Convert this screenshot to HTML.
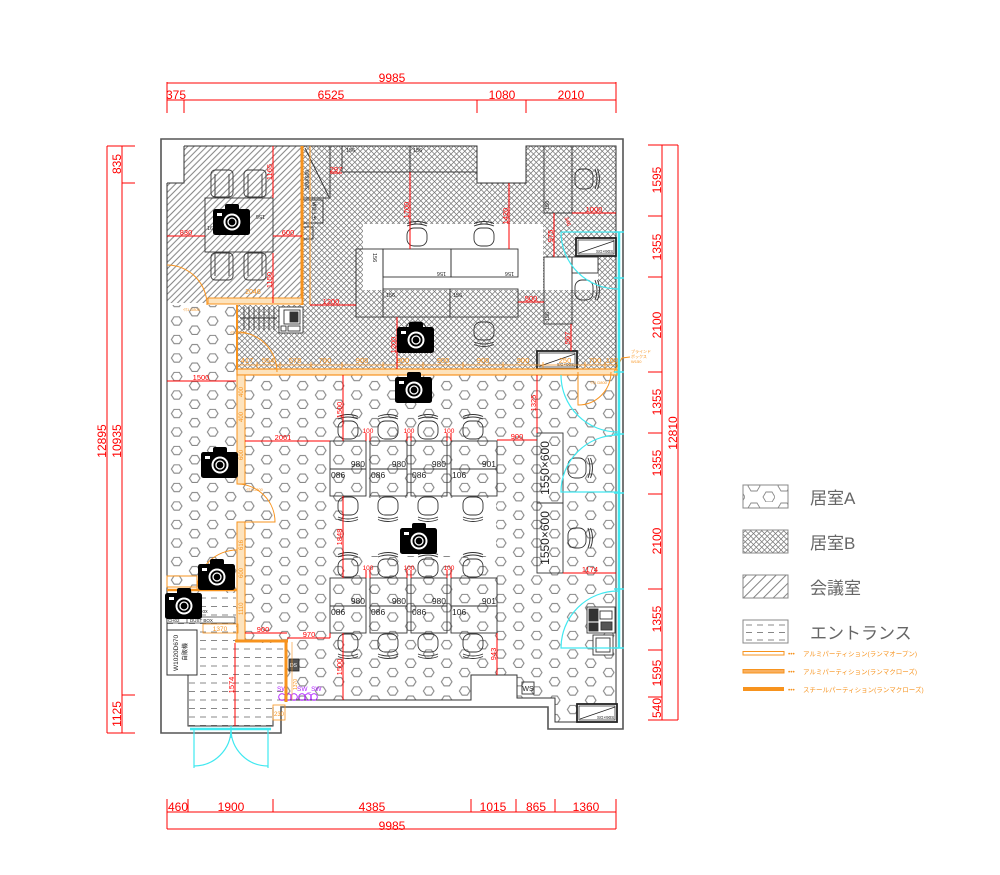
<!DOCTYPE html>
<html><head><meta charset="utf-8">
<style>
html,body{margin:0;padding:0;background:#fff;}
svg{display:block;}
text{font-family:"Liberation Sans Narrow","Liberation Sans","Noto Sans CJK JP",sans-serif;}
.r{fill:#ff0000;}
.rl{stroke:#ff0000;stroke-width:1;fill:none;}
.o{fill:#f7931e;}
.ol{stroke:#f7931e;fill:none;}
.k{stroke:#333;stroke-width:0.9;fill:none;}
.cy{stroke:#40e8f0;fill:none;}
</style></head><body>
<svg width="1000" height="875" viewBox="0 0 1000 875" xmlns="http://www.w3.org/2000/svg">
<defs>
 <pattern id="hex" patternUnits="userSpaceOnUse" x="167.7" y="1.9" width="36" height="18.5">
  <path d="M3.7,4.6 L6.4,0.4 L11.6,0.4 L14.3,4.6 L11.6,8.8 L6.4,8.8Z M21.7,13.85 L24.4,9.65 L29.6,9.65 L32.3,13.85 L29.6,18.05 L24.4,18.05Z" fill="none" stroke="#7a7a7a" stroke-width="1"/>
 </pattern>
 <pattern id="hexL" patternUnits="userSpaceOnUse" x="745" y="480" width="30" height="22">
  <path d="M3,6 L6,1 L12,1 L15,6 L12,11 L6,11Z M18,17 L21,12 L27,12 L30,17 L27,22 L21,22Z" fill="none" stroke="#8a8a8a" stroke-width="0.9"/>
 </pattern>
 <pattern id="xh" patternUnits="userSpaceOnUse" width="5.5" height="5.5">
  <path d="M0,0 L5.5,5.5 M5.5,0 L0,5.5" stroke="#777" stroke-width="0.75"/>
 </pattern>
 <pattern id="hatch" patternUnits="userSpaceOnUse" width="4.5" height="4.5" patternTransform="rotate(45)">
  <line x1="2.25" y1="0" x2="2.25" y2="4.5" stroke="#6a6a6a" stroke-width="0.85"/>
 </pattern>
 <pattern id="hatchL" patternUnits="userSpaceOnUse" width="7" height="7" patternTransform="rotate(45)">
  <line x1="3.5" y1="0" x2="3.5" y2="7" stroke="#777" stroke-width="0.9"/>
 </pattern>
 <pattern id="dash" patternUnits="userSpaceOnUse" width="11" height="8.5" x="188" y="645">
  <line x1="1" y1="4" x2="7" y2="4" stroke="#888" stroke-width="1"/>
 </pattern>
 <pattern id="dashL" patternUnits="userSpaceOnUse" width="11" height="7.5" x="745" y="621">
  <line x1="1" y1="4" x2="7" y2="4" stroke="#888" stroke-width="1"/>
 </pattern>
 <g id="ch">
  <rect x="-10" y="-10" width="20" height="18" rx="7" fill="none" stroke="#333" stroke-width="0.9"/>
  <path d="M-10,10 Q0,14 10,10 M-10,12.5 Q0,16.5 10,12.5" fill="none" stroke="#333" stroke-width="0.9"/>
 </g>
 <g id="mch">
  <rect x="-11" y="-13" width="22" height="27" rx="4" fill="none" stroke="#333" stroke-width="0.9"/>
  <path d="M-7,-9 V14 M7,-9 V14" fill="none" stroke="#333" stroke-width="0.9"/>
 </g>
 <g id="cam">
  <rect x="12" y="0" width="14" height="8" rx="2" fill="#000"/>
  <rect x="0" y="5" width="37" height="26" rx="2.5" fill="#000"/>
  <rect x="4" y="9" width="5" height="3" fill="#fff"/>
  <circle cx="19" cy="18" r="8.5" fill="#fff"/>
  <circle cx="19" cy="18" r="6.5" fill="#000"/>
  <circle cx="19" cy="18" r="4" fill="none" stroke="#fff" stroke-width="1.3"/>
 </g>
 <g id="sgbox">
  <rect x="0" y="0" width="40" height="18" fill="#fff" stroke="#222" stroke-width="1.8"/>
  <rect x="2" y="2" width="36" height="14" fill="none" stroke="#222" stroke-width="0.7"/>
  <line x1="3" y1="15" x2="38" y2="3" stroke="#222" stroke-width="0.7"/>
  <text x="20" y="15" font-size="4.5" text-anchor="start" fill="#222">SG×90S</text>
 </g>
</defs>

<!-- ============ FILLS ============ -->
<polygon points="184,146 302,146 302,303 167,303 167,183 184,183" fill="url(#hatch)"/>
<polygon points="302,146 477,146 477,183 526,183 526,146 616,146 616,370 237,370 237,305 302,305" fill="url(#xh)"/>
<rect x="363" y="224" width="180" height="66" fill="#fff"/>
<rect x="544" y="257" width="54" height="33" fill="#fff"/>
<polygon points="167,305 237,305 237,375 616,375 616,722 555,722 555,698 517,698 517,675 471,675 471,700 287,700 287,643 236,643 236,593 167,593" fill="url(#hex)"/>
<rect x="344" y="498" width="152" height="58" fill="#fff"/>
<polygon points="167,593 236,593 236,643 286,643 286,702 273,702 273,726 188,726 188,675 167,675" fill="#fff"/>
<polygon points="167,593 236,593 236,643 286,643 286,702 273,702 273,726 188,726 188,675 167,675" fill="url(#dash)"/>

<!-- ============ WALLS ============ -->
<polygon points="161,139 623,139 623,729 548,729 548,707 281,707 281,733 161,733" fill="none" stroke="#555" stroke-width="1.6"/>
<polyline points="184,146 477,146 477,183 526,183 526,146 616,146 616,722 555,722 555,698 517,698 517,675 471,675 471,700 283,700" fill="none" stroke="#333" stroke-width="1"/>
<polyline points="167,183 184,183 184,146" fill="none" stroke="#333" stroke-width="1"/>
<line x1="167" y1="183" x2="167" y2="675" stroke="#333" stroke-width="1"/>
<polyline points="167,675 188,675 188,726 273,726 273,707" fill="none" stroke="#333" stroke-width="1"/>
<rect x="273" y="705" width="12" height="15" fill="none" stroke="#f7931e" stroke-width="0.8"/>
<text x="279" y="716" font-size="6" class="o" text-anchor="middle">230</text>

<!-- ============ UPPER AREA FURNITURE ============ -->
<rect x="342" y="146" width="68" height="26" class="k" fill="none"/>
<rect x="410" y="146" width="67" height="26" class="k"/>
<text x="346" y="152" font-size="5.5" fill="#222">156</text>
<text x="413" y="152" font-size="5.5" fill="#222">156</text>
<rect x="303" y="146" width="27" height="52" class="k" stroke-width="1"/>
<line x1="305" y1="148" x2="329" y2="197" class="k"/>
<text transform="translate(309,190) rotate(-90)" font-size="5" fill="#222">300X600</text>
<rect x="303" y="200" width="20" height="23" class="k"/>
<text transform="translate(316,220) rotate(-90)" font-size="4.5" fill="#222">床下収納</text>
<rect x="303" y="227" width="10" height="12" class="k"/>

<rect x="356" y="249" width="27" height="68" class="k"/>
<rect x="383" y="249" width="68" height="28" class="k"/>
<rect x="451" y="249" width="67" height="28" class="k"/>
<rect x="383" y="289" width="67" height="28" class="k"/>
<rect x="450" y="289" width="68" height="28" class="k"/>
<text transform="translate(373,253) rotate(90)" font-size="5.5" fill="#222">156</text>
<text transform="translate(446,272) rotate(180)" font-size="5.5" fill="#222">156</text>
<text transform="translate(514,272) rotate(180)" font-size="5.5" fill="#222">156</text>
<text x="386" y="297" font-size="5.5" fill="#222">156</text>
<text x="453" y="297" font-size="5.5" fill="#222">156</text>

<use href="#ch" transform="translate(417,236) rotate(180)"/>
<use href="#ch" transform="translate(484,236) rotate(180)"/>
<use href="#ch" transform="translate(416,332)"/>
<use href="#ch" transform="translate(484,332)"/>

<rect x="544" y="146" width="28" height="67" class="k"/>
<text transform="translate(549,210) rotate(-90)" font-size="5.5" fill="#222">156</text>
<use href="#ch" transform="translate(585,179) rotate(-90)"/>
<rect x="544" y="257" width="28" height="67" class="k"/>
<rect x="572" y="257" width="26" height="16" class="k"/>
<text transform="translate(549,321) rotate(-90)" font-size="5.5" fill="#222">156</text>
<use href="#ch" transform="translate(585,290) rotate(-90)"/>
<use href="#sgbox" transform="translate(576,238)"/>
<use href="#sgbox" transform="translate(537,351)"/>
<use href="#sgbox" transform="translate(577,704)"/>

<!-- meeting room -->
<rect x="205" y="198" width="68" height="54" class="k" fill="none"/>
<text transform="translate(265,215) rotate(180)" font-size="5.5" fill="#222">156</text>
<text x="207" y="230" font-size="5.5" fill="#222">16</text>
<use href="#mch" transform="translate(222,183)"/>
<use href="#mch" transform="translate(255,183)"/>
<use href="#mch" transform="translate(222,267) rotate(180)"/>
<use href="#mch" transform="translate(255,267) rotate(180)"/>

<g class="k" stroke-width="0.8">
 <line x1="240" y1="318" x2="277" y2="318"/>
 <line x1="244" y1="307" x2="244" y2="330"/><line x1="249" y1="307" x2="249" y2="330"/>
 <line x1="254" y1="307" x2="254" y2="330"/><line x1="259" y1="307" x2="259" y2="330"/>
 <line x1="264" y1="307" x2="264" y2="330"/><line x1="269" y1="307" x2="269" y2="330"/>
 <line x1="274" y1="307" x2="274" y2="330"/>
 <rect x="279" y="307" width="24" height="26" fill="#fff"/>
 <rect x="284" y="310" width="16" height="14"/>
 <rect x="290" y="312" width="8" height="10" fill="#333"/>
 <rect x="281" y="326" width="5" height="5"/>
 <rect x="288" y="326" width="12" height="5"/>
</g>

<!-- ============ ISLAND DESKS ============ -->
<g class="k">
 <rect x="330" y="441" width="36" height="55"/><line x1="330" y1="469" x2="366" y2="469"/>
 <rect x="370" y="441" width="37" height="55"/><line x1="370" y1="469" x2="407" y2="469"/>
 <rect x="411" y="441" width="36" height="55"/><line x1="411" y1="469" x2="447" y2="469"/>
 <rect x="451" y="441" width="46" height="55"/><line x1="451" y1="469" x2="497" y2="469"/>
 <rect x="330" y="578" width="36" height="55"/><line x1="330" y1="606" x2="366" y2="606"/>
 <rect x="370" y="578" width="37" height="55"/><line x1="370" y1="606" x2="407" y2="606"/>
 <rect x="411" y="578" width="36" height="55"/><line x1="411" y1="606" x2="447" y2="606"/>
 <rect x="451" y="578" width="46" height="55"/><line x1="451" y1="606" x2="497" y2="606"/>
</g>
<g font-size="8.5" fill="#222">
 <text x="365" y="467" text-anchor="end">980</text><text x="331" y="478">086</text>
 <text x="406" y="467" text-anchor="end">980</text><text x="371" y="478">086</text>
 <text x="446" y="467" text-anchor="end">980</text><text x="412" y="478">086</text>
 <text x="496" y="467" text-anchor="end">901</text><text x="452" y="478">106</text>
 <text x="365" y="604" text-anchor="end">980</text><text x="331" y="615">086</text>
 <text x="406" y="604" text-anchor="end">980</text><text x="371" y="615">086</text>
 <text x="446" y="604" text-anchor="end">980</text><text x="412" y="615">086</text>
 <text x="496" y="604" text-anchor="end">901</text><text x="452" y="615">106</text>
</g>
<use href="#ch" transform="translate(348,429) rotate(180)"/>
<use href="#ch" transform="translate(388,429) rotate(180)"/>
<use href="#ch" transform="translate(428,429) rotate(180)"/>
<use href="#ch" transform="translate(473,429) rotate(180)"/>
<use href="#ch" transform="translate(348,507)"/>
<use href="#ch" transform="translate(388,507)"/>
<use href="#ch" transform="translate(428,507)"/>
<use href="#ch" transform="translate(473,507)"/>
<use href="#ch" transform="translate(348,567) rotate(180)"/>
<use href="#ch" transform="translate(388,567) rotate(180)"/>
<use href="#ch" transform="translate(428,567) rotate(180)"/>
<use href="#ch" transform="translate(473,567) rotate(180)"/>
<use href="#ch" transform="translate(348,644)"/>
<use href="#ch" transform="translate(388,644)"/>
<use href="#ch" transform="translate(428,644)"/>
<use href="#ch" transform="translate(473,644)"/>

<rect x="537" y="433" width="26" height="70" class="k" stroke-width="1"/>
<rect x="537" y="503" width="26" height="70" class="k" stroke-width="1"/>
<text transform="translate(549,468) rotate(-90)" font-size="12" text-anchor="middle" fill="#222">1550×600</text>
<text transform="translate(549,538) rotate(-90)" font-size="12" text-anchor="middle" fill="#222">1550×600</text>
<use href="#ch" transform="translate(578,468) rotate(-90)"/>
<use href="#ch" transform="translate(578,538) rotate(-90)"/>

<g class="k">
 <rect x="587" y="607" width="28" height="26" fill="#fff"/>
 <rect x="589" y="609" width="9" height="12" fill="#333"/>
 <rect x="600" y="611" width="12" height="8"/>
 <rect x="601" y="622" width="11" height="8" fill="#555"/>
 <rect x="589" y="623" width="9" height="8" fill="#333"/>
 <rect x="593" y="635" width="20" height="20" fill="#fff"/>
 <rect x="596" y="638" width="14" height="14"/>
 <rect x="522" y="682" width="12" height="12"/>
</g>
<text x="528" y="691" font-size="7" text-anchor="middle" fill="#222">WS</text>

<rect x="167" y="630" width="30" height="45" fill="#fff" stroke="#333" stroke-width="1"/>
<text transform="translate(178,671) rotate(-90)" font-size="6.5" fill="#222">W1020D670</text>
<text transform="translate(187,661) rotate(-90)" font-size="6" fill="#222">自販機</text>
<rect x="167" y="617" width="68" height="6" fill="#fff" stroke="#333" stroke-width="0.7"/>
<line x1="187" y1="617" x2="187" y2="623" stroke="#333" stroke-width="0.7"/>
<text x="168" y="622" font-size="4.5" fill="#222">CH02</text>
<text x="190" y="622" font-size="4.5" fill="#222">DUST BOX</text>
<text x="199" y="613" font-size="5" fill="#222">Box</text>
<rect x="289" y="659" width="10" height="12" fill="#555" stroke="#222" stroke-width="0.8"/>
<text x="290" y="667" font-size="5" fill="#fff">DS</text>

<g stroke="#b020ff" fill="none" stroke-width="0.9">
 <circle cx="282" cy="697" r="3.3"/><circle cx="288" cy="697" r="3.3"/><circle cx="294" cy="697" r="3.3"/>
 <circle cx="302" cy="697" r="3.3"/><circle cx="308" cy="697" r="3.3"/><circle cx="314" cy="697" r="3.3"/>
</g>
<text x="277" y="691" font-size="6.5" fill="#b020ff">SW</text>
<text x="297" y="691" font-size="6.5" fill="#b020ff">SW_SW</text>

<!-- ============ ORANGE PARTITIONS ============ -->
<line x1="302" y1="146" x2="302" y2="305" stroke="#f7931e" stroke-width="3"/>
<line x1="310" y1="146" x2="310" y2="305" stroke="#f7931e" stroke-width="1"/>
<rect x="208" y="298" width="94" height="6" fill="#fde3bd" stroke="#f7931e" stroke-width="1"/>
<line x1="237" y1="305" x2="237" y2="370" stroke="#f7931e" stroke-width="2"/>
<rect x="237" y="369" width="380" height="6" fill="#fde3bd" stroke="#f7931e" stroke-width="1.2"/>
<rect x="237" y="375" width="8" height="109" fill="#fde3bd" stroke="#f7931e" stroke-width="1"/>
<rect x="237" y="522" width="8" height="119" fill="#fde3bd" stroke="#f7931e" stroke-width="1"/>
<line x1="235" y1="641" x2="288" y2="641" stroke="#f7931e" stroke-width="3"/>
<line x1="286" y1="641" x2="286" y2="702" stroke="#f7931e" stroke-width="3"/>
<line x1="167" y1="590" x2="237" y2="590" stroke="#f7931e" stroke-width="2.5"/>
<rect x="167" y="576" width="30" height="11" fill="none" stroke="#f7931e" stroke-width="1"/>
<rect x="203" y="624" width="35" height="9" fill="none" stroke="#f7931e" stroke-width="0.8"/>
<text x="220" y="631" font-size="6.5" class="o" text-anchor="middle">1370</text>
<text transform="translate(297,690) rotate(-90)" font-size="5" class="o">1370</text>
<line x1="292" y1="642" x2="292" y2="700" stroke="#f7931e" stroke-width="0.6"/>
<g font-size="6" class="o">
 <text transform="translate(243,397) rotate(-90)">400</text>
 <text transform="translate(243,422) rotate(-90)">400</text>
 <text transform="translate(243,460) rotate(-90)">600</text>
 <text transform="translate(243,550) rotate(-90)">616</text>
 <text transform="translate(243,578) rotate(-90)">600</text>
 <text transform="translate(243,615) rotate(-90)">1110</text>
</g>
<line x1="237" y1="365" x2="617" y2="365" stroke="#f7931e" stroke-width="0.8"/>
<g stroke="#f7931e" stroke-width="0.8">
 <line x1="237" y1="362" x2="237" y2="368"/><line x1="257" y1="362" x2="257" y2="368"/>
 <line x1="280" y1="362" x2="280" y2="368"/><line x1="311" y1="362" x2="311" y2="368"/>
 <line x1="342" y1="362" x2="342" y2="368"/><line x1="383" y1="362" x2="383" y2="368"/>
 <line x1="423" y1="362" x2="423" y2="368"/><line x1="463" y1="362" x2="463" y2="368"/>
 <line x1="503" y1="362" x2="503" y2="368"/><line x1="543" y1="362" x2="543" y2="368"/>
 <line x1="585" y1="362" x2="585" y2="368"/><line x1="605" y1="362" x2="605" y2="368"/>
 <line x1="617" y1="362" x2="617" y2="368"/>
</g>
<g font-size="7.5" class="o" text-anchor="middle">
 <text x="247" y="363">417</text><text x="268" y="363">554</text><text x="295" y="363">578</text>
 <text x="325" y="363">760</text><text x="362" y="363">900</text><text x="403" y="363">900</text>
 <text x="443" y="363">900</text><text x="483" y="363">900</text><text x="523" y="363">900</text>
 <text x="565" y="363">250</text><text x="595" y="363">700</text><text x="612" y="363">160</text>
</g>
<g stroke="#f7931e" fill="none" stroke-width="1">
 <path d="M167,265 A40,40 0 0,1 207,305"/>
 <path d="M237,332 A40,40 0 0,1 277,372"/>
 <path d="M237,484 A38,38 0 0,1 275,522 L237,522"/>
 <path d="M237,550 A40,40 0 0,0 197,590"/>
 <path d="M578,372 L578,405 A33,33 0 0,0 611,372"/>
 <polyline points="614,372 622,358 630,357"/>
</g>
<text x="253" y="294" font-size="7" class="o" text-anchor="middle">2046</text>
<text x="183" y="311" font-size="4" class="o">ｲﾏ1 D800</text>
<text x="230" y="334" font-size="4" class="o">ｲﾏ1 D800</text>
<text x="246" y="491" font-size="4" class="o">ｲﾏ1 D800</text>
<text x="590" y="384" font-size="4" class="o">ｲﾏ1 D800</text>
<text x="631" y="353" font-size="4" class="o">ブラインド</text>
<text x="631" y="358" font-size="4" class="o">ボックス</text>
<text x="631" y="363" font-size="4" class="o">W150</text>

<!-- ============ CYAN ============ -->
<g class="cy" stroke-width="2.5">
 <line x1="619" y1="232" x2="619" y2="648"/>
 <line x1="190" y1="729" x2="271" y2="729"/>
</g>
<g class="cy" stroke-width="1.2">
 <line x1="561" y1="232" x2="619" y2="232"/>
 <path d="M561,232 A57,57 0 0,0 618,289"/>
 <path d="M561,375 A57,57 0 0,0 618,432"/>
 <path d="M618,435 A57,57 0 0,0 561,492 L619,492"/>
 <path d="M618,591 A57,57 0 0,0 561,648 L619,648"/>
 <line x1="194" y1="729" x2="194" y2="768"/>
 <line x1="268" y1="729" x2="268" y2="768"/>
 <path d="M231,729 A37,37 0 0,1 194,766"/>
 <path d="M231,729 A37,37 0 0,0 268,766"/>
 <line x1="231" y1="726" x2="231" y2="738"/>
</g>
<g class="cy" stroke-width="1.5">
 <line x1="614" y1="232" x2="624" y2="232"/><line x1="614" y1="278" x2="624" y2="278"/>
 <line x1="614" y1="372" x2="624" y2="372"/><line x1="614" y1="434" x2="624" y2="434"/>
 <line x1="614" y1="493" x2="624" y2="493"/><line x1="614" y1="589" x2="624" y2="589"/>
 <line x1="614" y1="648" x2="624" y2="648"/>
</g>

<!-- ============ RED INTERIOR DIMS ============ -->
<g class="rl" stroke-width="0.9">
 <line x1="273" y1="146" x2="273" y2="198"/><line x1="273" y1="253" x2="273" y2="303"/>
 <line x1="167" y1="236" x2="205" y2="236"/><line x1="273" y1="236" x2="302" y2="236"/>
 <line x1="330" y1="173" x2="342" y2="173"/>
 <line x1="410" y1="172" x2="410" y2="249"/>
 <line x1="509" y1="183" x2="509" y2="249"/>
 <line x1="310" y1="305" x2="356" y2="305"/>
 <line x1="518" y1="302" x2="544" y2="302"/>
 <line x1="397" y1="317" x2="397" y2="369"/>
 <line x1="572" y1="213" x2="616" y2="213"/>
 <line x1="554" y1="213" x2="554" y2="257"/>
 <line x1="571" y1="324" x2="571" y2="351"/>
 <line x1="167" y1="381" x2="236" y2="381"/>
 <line x1="343" y1="375" x2="343" y2="441"/>
 <line x1="537" y1="375" x2="537" y2="433"/>
 <line x1="245" y1="441" x2="330" y2="441"/>
 <line x1="497" y1="440" x2="537" y2="440"/>
 <line x1="343" y1="496" x2="343" y2="578"/>
 <line x1="563" y1="573" x2="616" y2="573"/>
 <line x1="245" y1="633" x2="287" y2="633"/>
 <line x1="287" y1="638" x2="330" y2="638"/><line x1="330" y1="633" x2="330" y2="638"/>
 <line x1="343" y1="633" x2="343" y2="700"/>
 <line x1="497" y1="633" x2="497" y2="675"/>
 <line x1="235" y1="643" x2="235" y2="726"/>
 <path d="M366,433 V441 M370,433 V441 M407,433 V441 M411,433 V441 M447,433 V441 M451,433 V441"/>
 <path d="M366,570 V578 M370,570 V578 M407,570 V578 M411,570 V578 M447,570 V578 M451,570 V578"/>
</g>
<g font-size="7.5" class="r">
 <text transform="translate(272,172) rotate(-90)" text-anchor="middle">1165</text>
 <text transform="translate(272,280) rotate(-90)" text-anchor="middle">1150</text>
 <text x="186" y="235" text-anchor="middle">830</text>
 <text x="288" y="235" text-anchor="middle">600</text>
 <text x="336" y="172" text-anchor="middle">297</text>
 <text transform="translate(409,210) rotate(-90)" text-anchor="middle">1700</text>
 <text transform="translate(508,216) rotate(-90)" text-anchor="middle">1420</text>
 <text x="331" y="304" text-anchor="middle">1200</text>
 <text x="531" y="301" text-anchor="middle">500</text>
 <text transform="translate(396,345) rotate(-90)" text-anchor="middle">1200</text>
 <text x="594" y="212" text-anchor="middle">1000</text>
 <text transform="translate(553,236) rotate(-90)" text-anchor="middle">975</text>
 <text transform="translate(566,222) rotate(70)" text-anchor="middle" font-size="5.5">346</text>
 <text transform="translate(570,338) rotate(-90)" text-anchor="middle">567</text>
 <text x="201" y="380" text-anchor="middle">1500</text>
 <text transform="translate(342,410) rotate(-90)" text-anchor="middle">1500</text>
 <text transform="translate(536,403) rotate(-90)" text-anchor="middle">1325</text>
 <text x="283" y="440" text-anchor="middle">2061</text>
 <text x="517" y="439" text-anchor="middle">900</text>
 <text transform="translate(342,537) rotate(-90)" text-anchor="middle">1848</text>
 <text x="590" y="572" text-anchor="middle">1174</text>
 <text x="263" y="632" text-anchor="middle">900</text>
 <text x="309" y="637" text-anchor="middle">970</text>
 <text transform="translate(342,667) rotate(-90)" text-anchor="middle">1500</text>
 <text transform="translate(496,654) rotate(-90)" text-anchor="middle">943</text>
 <text transform="translate(234,685) rotate(-90)" text-anchor="middle">1574</text>
 <g font-size="6.5">
  <text x="368" y="433" text-anchor="middle">100</text><text x="409" y="433" text-anchor="middle">100</text><text x="449" y="433" text-anchor="middle">100</text>
  <text x="368" y="570" text-anchor="middle">100</text><text x="409" y="570" text-anchor="middle">100</text><text x="449" y="570" text-anchor="middle">100</text>
 </g>
</g>

<!-- ============ CAMERAS ============ -->
<use href="#cam" transform="translate(213,204)"/>
<use href="#cam" transform="translate(397,322)"/>
<use href="#cam" transform="translate(395,372)"/>
<use href="#cam" transform="translate(201,447)"/>
<use href="#cam" transform="translate(400,523)"/>
<use href="#cam" transform="translate(198,559)"/>
<use href="#cam" transform="translate(165,588)"/>

<!-- ============ OUTER DIMENSIONS ============ -->
<g class="rl">
 <line x1="167" y1="83" x2="616" y2="83"/>
 <line x1="167" y1="100" x2="616" y2="100"/>
 <line x1="167" y1="82" x2="167" y2="113"/><line x1="616" y1="82" x2="616" y2="113"/>
 <line x1="184" y1="100" x2="184" y2="113"/><line x1="477" y1="100" x2="477" y2="113"/>
 <line x1="526" y1="100" x2="526" y2="113"/>
 <line x1="167" y1="812" x2="616" y2="812"/>
 <line x1="167" y1="829" x2="616" y2="829"/>
 <line x1="167" y1="799" x2="167" y2="829"/><line x1="616" y1="799" x2="616" y2="829"/>
 <line x1="188" y1="799" x2="188" y2="812"/><line x1="273" y1="799" x2="273" y2="812"/>
 <line x1="471" y1="799" x2="471" y2="812"/><line x1="516" y1="799" x2="516" y2="812"/>
 <line x1="555" y1="799" x2="555" y2="812"/>
 <line x1="107" y1="146" x2="107" y2="733"/>
 <line x1="122" y1="146" x2="122" y2="733"/>
 <line x1="107" y1="146" x2="135" y2="146"/><line x1="107" y1="733" x2="135" y2="733"/>
 <line x1="122" y1="183" x2="135" y2="183"/><line x1="122" y1="695" x2="135" y2="695"/>
 <line x1="662" y1="145" x2="662" y2="720"/>
 <line x1="678" y1="145" x2="678" y2="720"/>
 <line x1="648" y1="145" x2="678" y2="145"/><line x1="648" y1="720" x2="678" y2="720"/>
 <line x1="648" y1="216" x2="662" y2="216"/><line x1="648" y1="277" x2="662" y2="277"/>
 <line x1="648" y1="372" x2="662" y2="372"/><line x1="648" y1="433" x2="662" y2="433"/>
 <line x1="648" y1="494" x2="662" y2="494"/><line x1="648" y1="589" x2="662" y2="589"/>
 <line x1="648" y1="650" x2="662" y2="650"/><line x1="648" y1="697" x2="662" y2="697"/>
</g>
<g font-size="12" class="r" text-anchor="middle">
 <text x="392" y="82">9985</text>
 <text x="176" y="99">375</text>
 <text x="331" y="99">6525</text>
 <text x="502" y="99">1080</text>
 <text x="571" y="99">2010</text>
 <text x="178" y="811">460</text>
 <text x="231" y="811">1900</text>
 <text x="372" y="811">4385</text>
 <text x="493" y="811">1015</text>
 <text x="536" y="811">865</text>
 <text x="586" y="811">1360</text>
 <text x="392" y="830">9985</text>
 <text transform="translate(106,441) rotate(-90)">12895</text>
 <text transform="translate(121,164) rotate(-90)">835</text>
 <text transform="translate(121,441) rotate(-90)">10935</text>
 <text transform="translate(121,714) rotate(-90)">1125</text>
 <text transform="translate(661,180) rotate(-90)">1595</text>
 <text transform="translate(661,247) rotate(-90)">1355</text>
 <text transform="translate(661,325) rotate(-90)">2100</text>
 <text transform="translate(661,402) rotate(-90)">1355</text>
 <text transform="translate(661,463) rotate(-90)">1355</text>
 <text transform="translate(661,541) rotate(-90)">2100</text>
 <text transform="translate(661,619) rotate(-90)">1355</text>
 <text transform="translate(661,673) rotate(-90)">1595</text>
 <text transform="translate(661,708) rotate(-90)">540</text>
 <text transform="translate(677,433) rotate(-90)">12810</text>
</g>

<!-- ============ LEGEND ============ -->
<rect x="743" y="485" width="45" height="23" fill="url(#hexL)" stroke="#888" stroke-width="1"/>
<rect x="743" y="530" width="45" height="23" fill="url(#xh)" stroke="#888" stroke-width="1"/>
<rect x="743" y="575" width="45" height="23" fill="url(#hatchL)" stroke="#888" stroke-width="1"/>
<rect x="743" y="620" width="45" height="23" fill="url(#dashL)" stroke="#888" stroke-width="1"/>
<g font-size="17" fill="#666" style="font-family:'Liberation Sans','Noto Sans CJK JP',sans-serif">
 <text x="810" y="504">居室A</text>
 <text x="810" y="549">居室B</text>
 <text x="810" y="594">会議室</text>
 <text x="810" y="639">エントランス</text>
</g>
<rect x="743" y="651.5" width="41" height="3.5" fill="#fff" stroke="#f7931e" stroke-width="1"/>
<rect x="743" y="669.5" width="41" height="3.5" fill="#f9b060" stroke="#f7931e" stroke-width="1"/>
<rect x="743" y="687" width="41" height="4" fill="#f7931e"/>
<g font-size="6.5" class="o" style="font-family:'Liberation Sans','Noto Sans CJK JP',sans-serif">
 <text x="788" y="656">•••</text><text x="803" y="656">アルミパーティション(ランマオープン)</text>
 <text x="788" y="674">•••</text><text x="803" y="674">アルミパーティション(ランマクローズ)</text>
 <text x="788" y="692">•••</text><text x="803" y="692">スチールパーティション(ランマクローズ)</text>
</g>
</svg>
</body></html>
